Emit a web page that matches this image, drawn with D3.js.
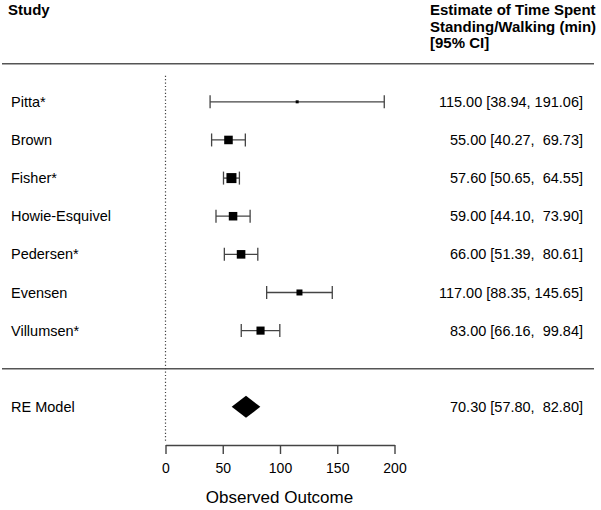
<!DOCTYPE html>
<html>
<head>
<meta charset="utf-8">
<script src="https://cdn.jsdelivr.net/npm/d3@7"></script>
<style>
  html, body { margin: 0; padding: 0; background: #fff; }
  svg { display: block; font-family: "Liberation Sans", Arial, Helvetica, sans-serif; }
  text { white-space: pre; }
</style>
</head>
<body>
<div id="chart"></div>
<script>
// 研究数据
const studies = ['Pitta*', 'Brown', 'Fisher*', 'Howie-Esquivel', 'Pedersen*', 'Evensen', 'Villumsen*'];
const estimates = [115.00, 55.00, 57.60, 59.00, 66.00, 117.00, 83.00];
const lowerCI = [38.94, 40.27, 50.65, 44.10, 51.39, 88.35, 66.16];
const upperCI = [191.06, 69.73, 64.55, 73.90, 80.61, 145.65, 99.84];

// 汇总模型
const summaryLabel = 'RE Model';
const summary = [70.30, 57.80, 82.80]; // 估计值, 下限, 上限

// 坐标轴
const xTicks = [0, 50, 100, 150, 200];
const xLabel = 'Observed Outcome';
const headerLeft = 'Study';
const headerRight = ['Estimate of Time Spent', 'Standing/Walking (min)', '[95% CI]'];

const width = 601, height = 510;

const svg = d3.select('#chart').append('svg')
  .attr('width', width)
  .attr('height', height);

// 比例尺
const x = d3.scaleLinear().domain([0, 200]).range([165.5, 394.5]);
// 行号: 研究 k..1, 分隔线 0, 汇总 -1, 轴 -2
const k = studies.length;
const y = d3.scaleLinear().domain([-2, k + 1]).range([445, 63.7]);

// 随机效应权重（DL法）决定方块大小
const vi = lowerCI.map((l, i) => Math.pow((upperCI[i] - l) / (2 * 1.96), 2));
const wFixed = vi.map(v => 1 / v);
const sumW = d3.sum(wFixed);
const mFixed = d3.sum(wFixed.map((w, i) => w * estimates[i])) / sumW;
const Q = d3.sum(wFixed.map((w, i) => w * Math.pow(estimates[i] - mFixed, 2)));
const C = sumW - d3.sum(wFixed.map(w => w * w)) / sumW;
const tau2 = Math.max(0, (Q - (k - 1)) / C);
const wRE = vi.map(v => 1 / (v + tau2));
const size = d3.scaleLinear().domain(d3.extent(wRE)).range([3, 10]);

const rows = studies.map((s, i) => ({
  name: s, est: estimates[i], lo: lowerCI[i], hi: upperCI[i],
  row: k - i, w: wRE[i]
}));

// 表头
svg.append('text')
  .attr('x', 8).attr('y', 15)
  .style('font-size', '15px').style('font-weight', 'bold')
  .text(headerLeft);

svg.append('g').selectAll('text')
  .data(headerRight)
  .join('text')
  .attr('x', 430)
  .attr('y', (d, i) => 15 + i * 16.5)
  .style('font-size', '15px').style('font-weight', 'bold')
  .text(d => d);

// 水平分隔线
svg.append('g').selectAll('line')
  .data([k + 1, 0])
  .join('line')
  .attr('x1', 2).attr('x2', 594)
  .attr('y1', d => y(d)).attr('y2', d => y(d))
  .attr('stroke', '#555').attr('stroke-width', 1.6);

// 零参考虚线
svg.append('line')
  .attr('x1', x(0)).attr('x2', x(0))
  .attr('y1', y(k + 1) + 12).attr('y2', y(-2) - 2)
  .attr('stroke', '#444').attr('stroke-width', 1.2)
  .attr('stroke-dasharray', '1.2,2.2');

// 研究标签
svg.append('g').selectAll('text')
  .data(rows)
  .join('text')
  .attr('x', 11)
  .attr('y', d => y(d.row))
  .attr('dy', '0.35em')
  .style('font-size', '14.5px')
  .text(d => d.name);

// 置信区间
const ci = svg.append('g').selectAll('g')
  .data(rows)
  .join('g')
  .attr('stroke', '#444').attr('stroke-width', 1.3);

ci.append('line')
  .attr('x1', d => x(d.lo)).attr('x2', d => x(d.hi))
  .attr('y1', d => y(d.row)).attr('y2', d => y(d.row));

ci.append('line')
  .attr('x1', d => x(d.lo)).attr('x2', d => x(d.lo))
  .attr('y1', d => y(d.row) - 6.5).attr('y2', d => y(d.row) + 6.5);

ci.append('line')
  .attr('x1', d => x(d.hi)).attr('x2', d => x(d.hi))
  .attr('y1', d => y(d.row) - 6.5).attr('y2', d => y(d.row) + 6.5);

// 方块
svg.append('g').selectAll('rect')
  .data(rows)
  .join('rect')
  .attr('x', d => x(d.est) - size(d.w) / 2)
  .attr('y', d => y(d.row) - size(d.w) / 2)
  .attr('width', d => size(d.w))
  .attr('height', d => size(d.w))
  .attr('fill', '#000');

// 右侧数值（对齐格式）
const fmt = d3.format('.2f');
const pad = (s, n) => ' '.repeat(Math.max(0, n - s.length)) + s;
const loW = d3.max(lowerCI.concat(summary[1]).map(v => fmt(v).length));
const hiW = d3.max(upperCI.concat(summary[2]).map(v => fmt(v).length));
const label = (e, l, h) => `${fmt(e)} [${pad(fmt(l), loW)}, ${pad(fmt(h), hiW)}]`;

svg.append('g').selectAll('text')
  .data(rows)
  .join('text')
  .attr('x', 583)
  .attr('y', d => y(d.row))
  .attr('dy', '0.35em')
  .attr('text-anchor', 'end')
  .attr('xml:space', 'preserve')
  .style('font-size', '14.5px')
  .text(d => label(d.est, d.lo, d.hi));

// 汇总菱形
const ys = y(-1);
svg.append('path')
  .attr('d', `M${x(summary[1])},${ys}L${x(summary[0])},${ys - 11}L${x(summary[2])},${ys}L${x(summary[0])},${ys + 11}Z`)
  .attr('fill', '#000');

svg.append('text')
  .attr('x', 11).attr('y', ys).attr('dy', '0.35em')
  .style('font-size', '14.5px')
  .text(summaryLabel);

svg.append('text')
  .attr('x', 583).attr('y', ys).attr('dy', '0.35em')
  .attr('text-anchor', 'end')
  .attr('xml:space', 'preserve')
  .style('font-size', '14.5px')
  .text(label(summary[0], summary[1], summary[2]));

// X轴
const axis = svg.append('g')
  .attr('transform', `translate(0,${y(-2)})`)
  .call(d3.axisBottom(x).tickValues(xTicks).tickSize(9).tickSizeOuter(0).tickPadding(9));

axis.select('.domain').attr('stroke', '#444').attr('stroke-width', 1.4);
axis.selectAll('.tick line').attr('stroke', '#444').attr('stroke-width', 1.4);
axis.selectAll('.tick text')
  .attr('fill', '#000')
  .style('font-size', '14px')
  .style('font-family', '"Liberation Sans", Arial, sans-serif');

svg.append('text')
  .attr('x', x(100) - 0.5)
  .attr('y', 503)
  .attr('text-anchor', 'middle')
  .style('font-size', '17px')
  .text(xLabel);
</script>
</body>
</html>
